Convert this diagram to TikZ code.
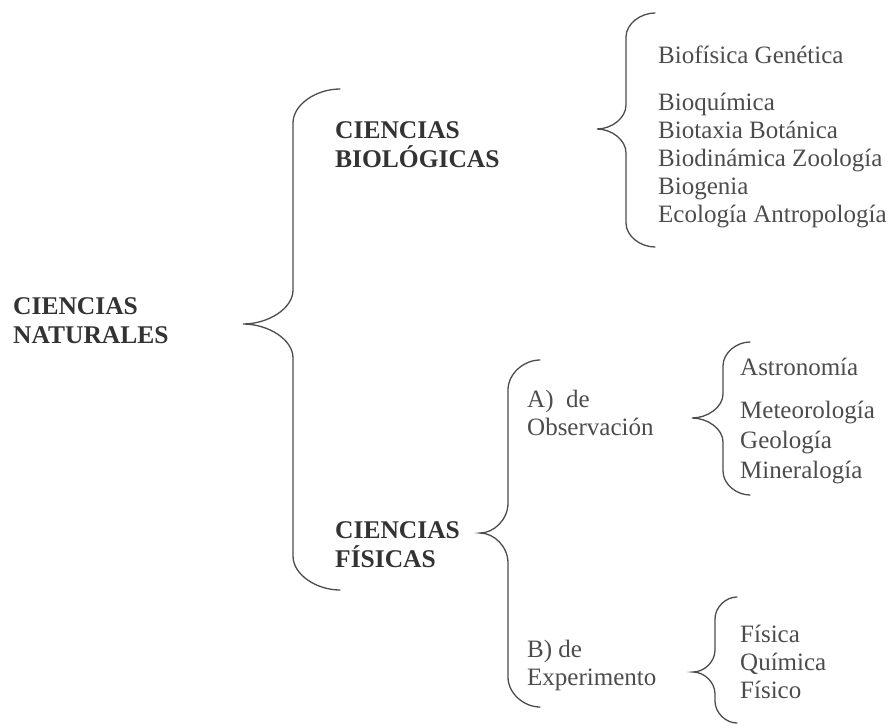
\documentclass[tikz,border=0pt]{standalone}
\usepackage{fontspec}
\setmainfont{Liberation Serif}

\newcommand{\curlybrace}[7]{% x of stem, top, bottom, x of tip, y of tip, x of ends, bend
	\draw[bracelin] (#6,#2) .. controls ({#1+0.5*(#6-#1)},#2) and (#1,{#2+0.45*#7}) .. (#1,{#2+#7})
		-- (#1,{#5-#7}) .. controls (#1,{#5-0.45*#7}) and ({#4+0.5*(#1-#4)},#5) .. (#4,#5)
		.. controls ({#4+0.5*(#1-#4)},#5) and (#1,{#5+0.45*#7}) .. (#1,{#5+#7})
		-- (#1,{#3-#7}) .. controls (#1,{#3-0.45*#7}) and ({#1+0.5*(#6-#1)},#3) .. (#6,#3);
}

\begin{document}
\begin{tikzpicture}[x=1pt,y=-1pt,
	bracelin/.style={draw=black!70,line width=1.3pt,line cap=round},
	head/.style={anchor=base west,inner sep=0pt,align=left,text=black!80,
		font=\fontsize{25.5}{29}\selectfont\bfseries},
	item/.style={anchor=base west,inner sep=0pt,align=left,text=black!70,
		font=\fontsize{25}{28}\selectfont}]
	\useasboundingbox (0,0) rectangle (896,726);

	%headings (placed at the baseline of their last line)
	\node[head] (nat) at (13,343) {CIENCIAS\\NATURALES};
	\node[head] (bio) at (335,167) {CIENCIAS\\BIOLÓGICAS};
	\node[head] (fis) at (335,567) {CIENCIAS\\FÍSICAS};
	\node[item] (obs) at (527,435) {A)\ \ de\\Observación};
	\node[item] (exp) at (527,685) {B) de\\Experimento};

	%lists
	\foreach \t/\y [count=\i] in {Biofísica Genética/63,Bioquímica/110,Biotaxia Botánica/138,
		Biodinámica Zoología/166,Biogenia/194,Ecología Antropología/222}{
		\node[item] (bio\i) at (658,\y) {\t};
	}
	\foreach \t/\y [count=\i] in {Astronomía/375,Meteorología/418,Geología/448,Mineralogía/478}{
		\node[item] (obs\i) at (740,\y) {\t};
	}
	\foreach \t/\y [count=\i] in {Física/642,Química/670,Físico/698}{
		\node[item] (exp\i) at (740,\y) {\t};
	}

	%braces
	\curlybrace{293}{89}{590}{243}{324}{340}{34}
	\curlybrace{626}{13}{247}{597}{129}{655}{24}
	\curlybrace{508}{360}{707}{480}{533}{540}{30}
	\curlybrace{723}{342}{495}{692}{418}{750}{24}
	\curlybrace{715}{597}{723}{693}{672}{737}{22}
\end{tikzpicture}
\end{document}
